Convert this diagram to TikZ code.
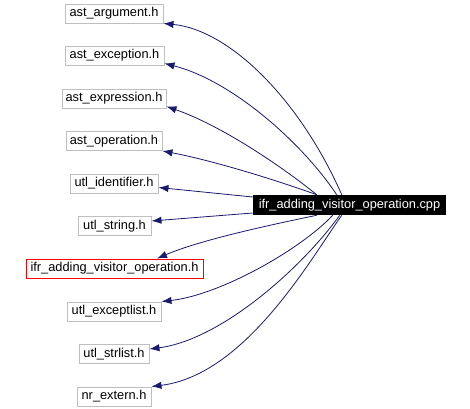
\documentclass[tikz,border=0pt]{standalone}
\usepackage{fontspec}
\setmainfont{Liberation Sans}
\usetikzlibrary{arrows.meta,calc}
\definecolor{boxgray}{HTML}{BFBFBF}
\definecolor{edgeblue}{HTML}{191970}
\begin{document}
\begin{tikzpicture}[x=0.75pt,y=-0.75pt,
  hdr/.style={draw=boxgray, fill=white, line width=0.7pt, inner xsep=1pt, inner ysep=0pt,
    minimum height=14.25pt, minimum width=#1*0.75pt, font=\fontsize{9.6}{11}\selectfont},
  redhdr/.style={hdr=#1, draw=red},
  mainbox/.style={fill=black, text=white, inner xsep=1pt, inner ysep=0pt,
    minimum height=15pt, minimum width=#1*0.75pt, font=\fontsize{9.6}{11}\selectfont},
  edge/.style={draw=edgeblue, line width=0.6pt, -{Latex[length=7.5pt,width=5.5pt]}}]
\useasboundingbox (0,0) rectangle (470,409);

\node[hdr=98]  (a1)  at (114,13.5)  {ast\_argument.h};
\node[hdr=99]  (a2)  at (114.5,55.5) {ast\_exception.h};
\node[hdr=104] (a3)  at (114,98.5)  {ast\_expression.h};
\node[hdr=96]  (a4)  at (114,141)   {ast\_operation.h};
\node[hdr=88]  (a5)  at (114,183.5) {utl\_identifier.h};
\node[hdr=73]  (a6)  at (114.5,226) {utl\_string.h};
\node[redhdr=177] (a7) at (114.5,268.5) {ifr\_adding\_visitor\_operation.h};
\node[hdr=94]  (a8)  at (114,311.5) {utl\_exceptlist.h};
\node[hdr=70]  (a9)  at (114,354)   {utl\_strlist.h};
\node[hdr=74]  (a10) at (114,396.5) {nr\_extern.h};

\node[mainbox=193] (cpp) at (349.5,205) {ifr\_adding\_visitor\_operation.cpp};

\draw[edge] ($(cpp.north west)+(89,0)$) .. controls (300,100) and (230,30) .. (a1.south east);
\draw[edge] ($(cpp.north west)+(84,0)$) .. controls (300,140) and (230,80) .. ($(a2.south east)+(0,-2)$);
\draw[edge] ($(cpp.north west)+(64,0)$) .. controls (280,165) and (220,125) .. ($(a3.south east)+(0,-2)$);
\draw[edge] ($(cpp.north west)+(64,0)$) .. controls (270,178) and (210,160) .. (a4.south east);
\draw[edge] ($(cpp.west)+(0,-8)$) -- ($(a5.east)+(0,4)$);
\draw[edge] ($(cpp.west)+(0,8)$) -- ($(a6.east)+(0,-5)$);
\draw[edge] ($(cpp.south west)+(64,0)$) .. controls (270,225) and (200,240) .. ($(a7.north)+(42.5,0)$);
\draw[edge] ($(cpp.south west)+(80,0)$) .. controls (300,250) and (220,295) .. (a8.north east);
\draw[edge] ($(cpp.south west)+(87,0)$) .. controls (300,270) and (220,340) .. ($(a9.east)+(0,-5)$);
\draw[edge] ($(cpp.south west)+(89,0)$) .. controls (310,260) and (245,375) .. (a10.north east);
\end{tikzpicture}
\end{document}
